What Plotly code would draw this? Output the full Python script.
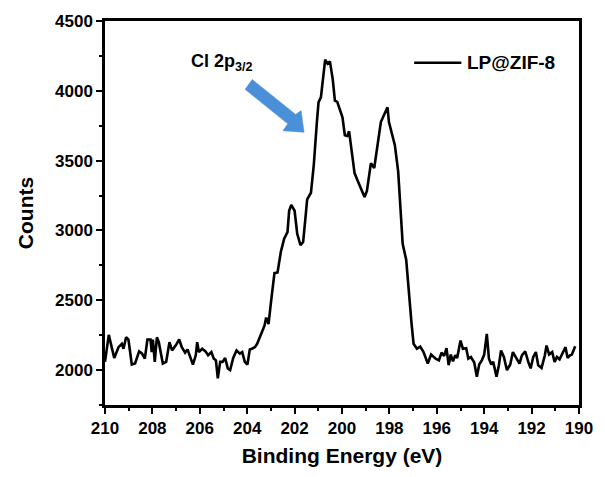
import plotly.graph_objects as go

# Binding energy (eV) and counts
energy = [210.00, 209.84, 209.61, 209.43, 209.29, 209.22, 209.11, 209.01, 208.87, 208.73,
          208.56, 208.44, 208.32, 208.21, 208.08, 208.03, 207.98, 207.90, 207.81, 207.73,
          207.56, 207.42, 207.28, 207.17, 207.00, 206.87, 206.76, 206.62, 206.52, 206.42,
          206.29, 206.17, 206.11, 206.04, 205.90, 205.76, 205.65, 205.51, 205.41, 205.32,
          205.24, 205.14, 205.04, 204.93, 204.82, 204.72, 204.59, 204.45, 204.31, 204.21,
          204.10, 203.99, 203.89, 203.80, 203.68, 203.58, 203.41, 203.27, 203.20, 203.10,
          203.00, 202.85, 202.72, 202.58, 202.44, 202.30, 202.23, 202.14, 202.00, 201.89,
          201.75, 201.64, 201.54, 201.47, 201.31, 201.19, 201.06, 200.99, 200.89, 200.78,
          200.71, 200.61, 200.51, 200.39, 200.30, 200.20, 200.09, 199.98, 199.88, 199.78,
          199.70, 199.61, 199.47, 199.33, 199.19, 199.05, 198.95, 198.85, 198.78, 198.64,
          198.50, 198.36, 198.27, 198.15, 198.08, 198.02, 197.88, 197.77, 197.63, 197.53,
          197.44, 197.29, 197.19, 197.07, 196.98, 196.84, 196.70, 196.56, 196.38, 196.24,
          196.05, 195.91, 195.80, 195.69, 195.59, 195.50, 195.41, 195.32, 195.22, 195.14,
          195.00, 194.90, 194.76, 194.67, 194.56, 194.42, 194.31, 194.21, 194.10, 194.00,
          193.89, 193.80, 193.70, 193.62, 193.48, 193.38, 193.29, 193.17, 193.04, 192.90,
          192.79, 192.65, 192.51, 192.41, 192.27, 192.14, 192.04, 191.93, 191.82, 191.72,
          191.58, 191.44, 191.37, 191.26, 191.13, 191.03, 190.93, 190.82, 190.68, 190.57,
          190.48, 190.38, 190.30, 190.16]
counts = [2060, 2252, 2087, 2164, 2188, 2153, 2235, 2219, 2040, 2047,
          2134, 2120, 2082, 2219, 2219, 2129, 2219, 2059, 2235, 2200,
          2047, 2059, 2200, 2141, 2181, 2219, 2164, 2125, 2148, 2094,
          2040, 2106, 2200, 2129, 2153, 2134, 2106, 2129, 2082, 2070,
          1941, 2059, 2059, 2087, 2012, 2000, 2087, 2141, 2118, 2129,
          2059, 2040, 2148, 2153, 2164, 2188, 2259, 2318, 2376, 2329,
          2482, 2694, 2699, 2847, 2941, 2988, 3141, 3183, 3141, 2976,
          2894, 2917, 3094, 3223, 3270, 3470, 3776, 3917, 3953, 4105,
          4223, 4195, 4211, 4082, 3929, 3921, 3870, 3811, 3682, 3677,
          3710, 3588, 3411, 3353, 3294, 3240, 3282, 3400, 3482, 3447,
          3611, 3776, 3811, 3858, 3882, 3776, 3682, 3611, 3423, 3141,
          2905, 2788, 2553, 2341, 2188, 2153, 2168, 2129, 2047, 2111,
          2082, 2070, 2125, 2101, 2157, 2035, 2111, 2063, 2106, 2087,
          2212, 2153, 2157, 2082, 2094, 2054, 1953, 2040, 2070, 2111,
          2259, 2082, 2040, 2059, 1953, 2035, 2141, 2094, 2000, 2040,
          2129, 2087, 2047, 2106, 2134, 2059, 2012, 2094, 2129, 2035,
          2016, 2106, 2176, 2111, 2129, 2059, 2094, 2077, 2125, 2164,
          2087, 2106, 2111, 2170]

series_name = "LP@ZIF-8"
x_ticks = [210, 208, 206, 204, 202, 200, 198, 196, 194, 192, 190]
y_ticks = [2000, 2500, 3000, 3500, 4000, 4500]

FONT = "Liberation Sans, Arial, sans-serif"

fig = go.Figure()
fig.add_trace(go.Scatter(x=energy, y=counts, mode="lines", name=series_name,
                         line=dict(color="black", width=2.6), showlegend=False))

W, H = 605, 477
L, R, T, B = 104.5, 586.7, 20.7, 410.0


def px(x, y):
    return (x - L) / (R - L), (B - y) / (B - T)


# blue arrow (decoration)
arrow_pts = [(254.3, 80), (298.5, 115.5), (304, 111.5), (307, 133.5),
             (285.5, 132), (290.5, 125), (247, 90)]
path = ""
for i, (ax, ay) in enumerate(arrow_pts):
    u, v = px(ax, ay)
    path += ("M" if i == 0 else "L") + f"{u:.4f},{v:.4f} "
path += "Z"
fig.add_shape(type="path", path=path, xref="paper", yref="paper",
              fillcolor="#4a90d9", line=dict(color="#4a8fd6", width=0.5), layer="above")

# manual legend
lx0, ly = px(419, 63)
lx1, _ = px(467, 63)
fig.add_shape(type="line", xref="paper", yref="paper", x0=lx0, x1=lx1, y0=ly, y1=ly,
              line=dict(color="black", width=2.6))
tx, _ = px(471, 63)
fig.add_annotation(xref="paper", yref="paper", x=tx, y=ly, xanchor="left", yanchor="middle",
                   text=series_name, showarrow=False,
                   font=dict(family=FONT, size=19, color="black", weight="bold"))

# peak label
ax_, ay_ = px(224, 63)
fig.add_annotation(xref="paper", yref="paper", x=ax_, y=ay_, xanchor="center", yanchor="middle",
                   text="Cl 2p<sub>3/2</sub>", showarrow=False,
                   font=dict(family=FONT, size=18, color="black", weight="bold"))

axis_common = dict(showline=True, linecolor="black", linewidth=2.5, mirror=True,
                   ticks="outside", ticklen=6, tickwidth=2, tickcolor="black",
                   showgrid=False, zeroline=False,
                   tickfont=dict(family=FONT, size=17, color="black", weight="bold"))

fig.update_xaxes(range=[210, 190], tickvals=x_ticks, ticktext=[str(v) for v in x_ticks],
                 minor=dict(dtick=1, tick0=190, ticks="outside", ticklen=3, tickwidth=2,
                            tickcolor="black", showgrid=False),
                 title=dict(text="Binding Energy (eV)", standoff=12,
                            font=dict(family=FONT, size=21, color="black", weight="bold")),
                 **axis_common)
fig.update_yaxes(range=[1750, 4500], tickvals=y_ticks, ticktext=[str(v) for v in y_ticks],
                 minor=dict(dtick=250, tick0=1750, ticks="outside", ticklen=3, tickwidth=2,
                            tickcolor="black", showgrid=False),
                 title=dict(text="Counts", standoff=16,
                            font=dict(family=FONT, size=21, color="black", weight="bold")),
                 **axis_common)

fig.update_layout(width=W, height=H, margin=dict(l=L, r=W - R, t=T, b=H - B),
                  paper_bgcolor="white", plot_bgcolor="white", showlegend=False)

fig.write_html("out.html", config={"displayModeBar": False},
               post_script="document.body.style.margin='0px';document.body.style.overflow='hidden';")
